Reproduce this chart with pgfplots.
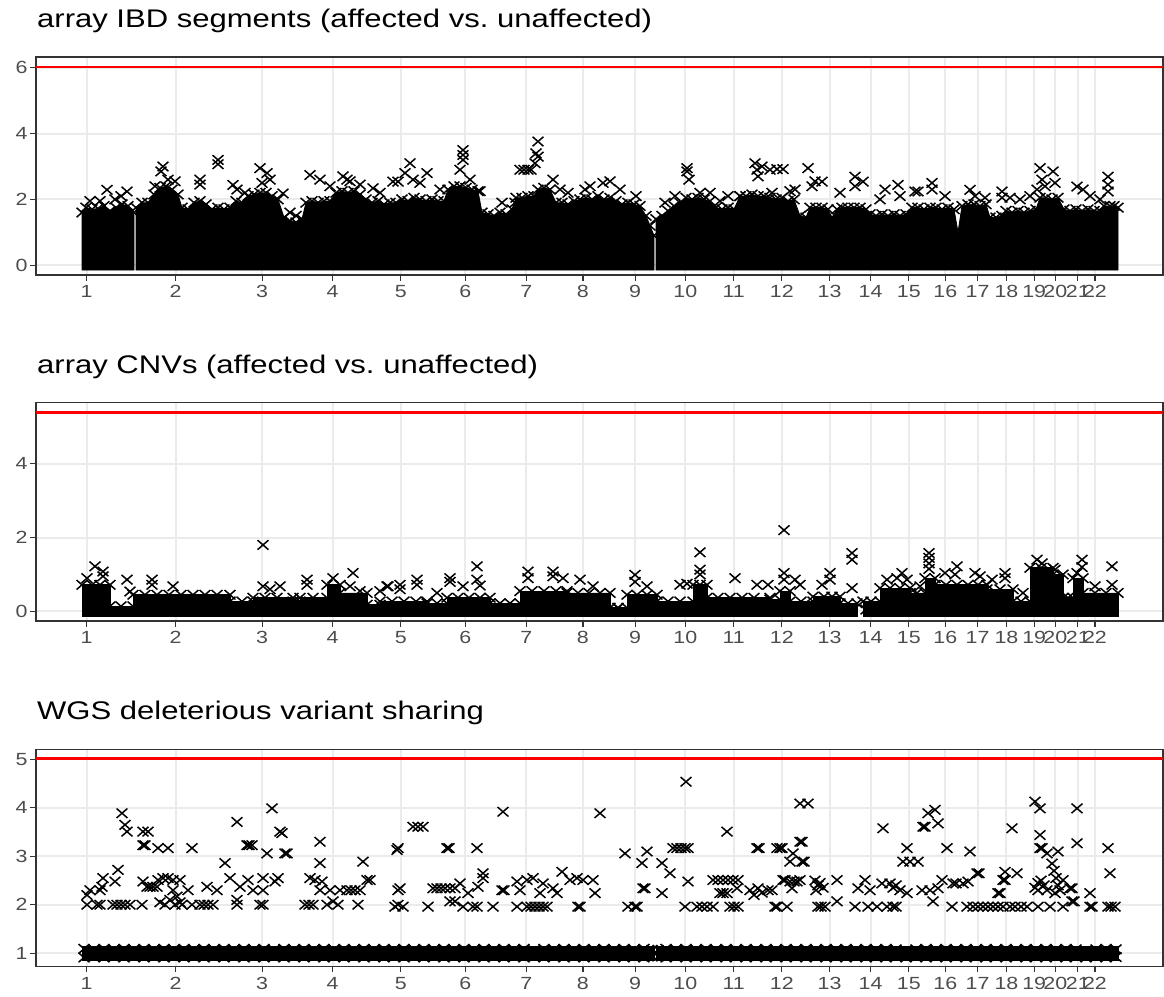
\documentclass[border=0pt]{standalone}
\usepackage{fontspec}
\setmainfont{Liberation Sans}[FakeStretch=1.217]
\usepackage{pgfplots}
\usepackage{pgfplotstable}
\pgfplotsset{compat=1.18}
\definecolor{gridc}{HTML}{EBEBEB}
\definecolor{axc}{HTML}{333333}
\definecolor{tickc}{HTML}{4D4D4D}
\definecolor{thr}{HTML}{FF0000}

% ---------- panel 1: IBD mass envelope (x = genome position in px units, y = -log10 p) ----------
\pgfplotstableread{
x y
82 -0.15
82 1.6
86 1.75
92 1.7
98 1.72
104 1.8
110 1.65
116 1.75
122 1.85
128 1.8
134 1.6
134 -0.15
}\pIa
\pgfplotstableread{
x y
136 -0.15
136 1.75
142 1.9
148 1.9
154 2.15
160 2.35
166 2.4
172 2.3
178 2.15
182 1.75
188 1.7
194 1.9
200 1.95
206 1.85
212 1.7
218 1.75
224 1.7
230 1.75
236 1.95
242 1.9
248 2.1
254 2.15
260 2.2
266 2.2
272 2.1
278 2.0
284 1.45
290 1.35
296 1.3
302 1.4
306 1.9
312 1.95
318 1.9
324 1.95
330 1.95
336 2.2
342 2.25
348 2.2
354 2.25
360 2.15
366 2.0
372 1.9
378 1.95
384 1.85
390 1.9
396 1.9
402 2.0
408 1.95
414 2.05
420 2.0
426 1.95
432 2.0
438 1.95
444 1.95
448 2.3
454 2.4
460 2.4
466 2.35
472 2.3
478 2.25
482 1.6
488 1.55
494 1.5
500 1.6
506 1.55
512 1.7
516 2.05
522 2.05
528 2.1
534 2.1
538 2.3
544 2.35
550 2.3
556 1.9
562 1.9
568 1.85
574 1.95
580 2.0
586 2.05
592 2.0
598 2.1
604 2.0
610 2.05
616 1.95
622 1.85
628 1.9
634 1.85
640 1.8
646 1.5
650 1.2
654 0.9
654 -0.15
}\pIb
\pgfplotstableread{
x y
656 -0.15
656 1.4
662 1.5
668 1.65
674 1.8
680 1.9
686 2.05
692 2.0
698 2.05
704 2.0
710 1.95
716 1.75
722 1.7
728 1.75
734 1.7
740 2.1
746 2.1
752 2.15
758 2.1
764 2.1
770 2.05
776 2.0
782 2.05
788 1.95
794 2.0
800 1.5
806 1.45
810 1.75
816 1.75
822 1.75
828 1.7
832 1.45
837 1.7
842 1.75
848 1.75
854 1.75
860 1.75
866 1.7
870 1.55
876 1.5
882 1.55
888 1.5
894 1.55
900 1.5
906 1.55
912 1.75
918 1.75
924 1.7
930 1.75
936 1.75
942 1.7
948 1.75
954 1.7
958 1.0
962 1.8
968 1.85
974 1.85
980 1.8
986 1.85
990 1.45
996 1.45
1002 1.5
1006 1.65
1012 1.6
1018 1.65
1024 1.6
1030 1.65
1036 1.7
1040 2.05
1046 2.05
1052 2.0
1058 2.05
1064 1.7
1070 1.65
1076 1.7
1082 1.65
1088 1.7
1094 1.65
1100 1.65
1104 1.8
1110 1.8
1114 1.8
1118 1.75
1118 -0.15
}\pIc

% ---------- panel 2: CNV mass envelope ----------
\pgfplotstableread{
x y
82 -0.13
82 0.72
110 0.72
110 0.14
133 0.14
133 0.45
230 0.45
230 0.27
253 0.27
253 0.37
293 0.37
293 0.27
300 0.27
300 0.37
327 0.37
327 0.72
340 0.72
340 0.5
367 0.5
367 0.18
380 0.18
380 0.27
427 0.27
427 0.22
447 0.22
447 0.37
490 0.37
490 0.22
520 0.22
520 0.55
567 0.55
567 0.5
610 0.5
610 0.1
627 0.1
627 0.45
657 0.45
657 0.27
693 0.27
693 0.72
707 0.72
707 0.37
770 0.37
770 0.32
780 0.32
780 0.55
790 0.55
790 0.27
813 0.27
813 0.4
840 0.4
840 0.22
857 0.22
857 -0.13
}\pIIa
\pgfplotstableread{
x y
863 -0.13
863 0.27
880 0.27
880 0.63
910 0.63
910 0.5
925 0.5
925 0.9
935 0.9
935 0.72
987 0.72
987 0.6
1013 0.6
1013 0.27
1030 0.27
1030 1.18
1053 1.18
1053 1.0
1063 1.0
1063 0.37
1073 0.37
1073 0.9
1083 0.9
1083 0.5
1118 0.5
1118 -0.13
}\pIIb

% ---------- panel 3: WGS band at 1 ----------
\pgfplotstableread{
x y
82 0.86
82 1.13
654 1.13
654 0.86
}\pIIIa
\pgfplotstableread{
x y
656 0.86
656 1.13
1118 1.13
1118 0.86
}\pIIIb
% edge marks of the band (upper row t, lower row b)
\pgfplotstableread{
x t b
84 1.09 0.91
94 1.08 0.92
104 1.09 0.91
114 1.08 0.92
124 1.09 0.91
134 1.08 0.92
144 1.09 0.91
154 1.08 0.92
164 1.09 0.91
174 1.08 0.92
184 1.09 0.91
194 1.08 0.92
204 1.09 0.91
214 1.08 0.92
224 1.09 0.91
234 1.08 0.92
244 1.09 0.91
254 1.08 0.92
264 1.09 0.91
274 1.07 0.92
284 1.09 0.91
294 1.08 0.92
304 1.09 0.91
314 1.08 0.92
324 1.09 0.91
334 1.08 0.92
344 1.09 0.91
354 1.08 0.92
364 1.09 0.91
374 1.08 0.92
384 1.09 0.91
394 1.08 0.92
404 1.09 0.91
414 1.08 0.92
424 1.09 0.91
434 1.08 0.92
444 1.09 0.91
454 1.08 0.92
464 1.09 0.91
474 1.08 0.92
484 1.09 0.91
494 1.08 0.92
504 1.09 0.91
514 1.08 0.92
524 1.09 0.91
534 1.06 0.92
544 1.09 0.91
554 1.08 0.92
564 1.09 0.91
574 1.08 0.92
584 1.09 0.91
594 1.08 0.92
604 1.09 0.91
614 1.08 0.92
624 1.09 0.91
634 1.08 0.92
644 1.09 0.91
652 1.07 0.93
658 1.07 0.93
666 1.09 0.91
676 1.08 0.92
686 1.09 0.91
696 1.08 0.92
706 1.09 0.91
716 1.08 0.92
726 1.09 0.91
736 1.08 0.92
746 1.09 0.91
756 1.08 0.92
766 1.09 0.91
776 1.08 0.92
786 1.09 0.91
796 1.08 0.92
806 1.09 0.91
816 1.08 0.92
826 1.09 0.91
836 1.08 0.92
846 1.09 0.91
856 1.08 0.92
866 1.09 0.91
876 1.08 0.92
886 1.09 0.91
896 1.08 0.92
906 1.06 0.91
916 1.08 0.92
926 1.09 0.91
936 1.08 0.92
946 1.09 0.91
956 1.08 0.92
966 1.09 0.91
976 1.08 0.92
986 1.09 0.91
996 1.08 0.92
1006 1.09 0.91
1016 1.08 0.92
1026 1.09 0.91
1036 1.08 0.92
1046 1.09 0.91
1056 1.08 0.92
1066 1.09 0.91
1076 1.08 0.92
1086 1.05 0.91
1096 1.08 0.92
1106 1.09 0.91
1116 1.08 0.92
}\pIIIedge

\pgfplotsset{
  manh/.style={
    scale only axis, width=1127pt,
    xmin=36, xmax=1163,
    xtick={86.7,175.5,262.2,332.7,400.8,465.3,526.3,582.9,635.1,685.4,733.7,781.8,829.5,870.5,908.8,945.3,977.5,1006.4,1034.2,1055.3,1077.8,1094.9},
    xticklabels={1,2,3,4,5,6,7,8,9,10,11,12,13,14,15,16,17,18,19,20,21,22},
    tick pos=left, tick align=outside, major tick length=5.5pt,
    every tick/.style={axc, line width=1.2pt},
    grid=major, major grid style={gridc, line width=2pt},
    axis line style={axc, line width=1.2pt},
    /pgf/number format/assume math mode=true,
    tick label style={font=\fontsize{17.6}{19}\selectfont, text=tickc},
    xticklabel style={yshift=-1.5pt},
    yticklabel style={xshift=0.5pt},
    title style={at={(0,1)}, anchor=base west, yshift=23.5pt, xshift=1pt, inner sep=0pt,
                 font=\fontsize{25.5}{30}\selectfont, text=black},
  },
  mass/.style={fill=black, draw=black, line width=0.8pt},
  xm/.style={only marks, mark=x, mark size=6.7pt, color=black,
             mark options={xscale=1.15, line width=1.5pt}},
}

\begin{document}
\begin{tikzpicture}
\useasboundingbox (0,0) rectangle (1164pt,-996pt);

% ================= Panel 1 =================
\begin{axis}[manh, at={(36pt,-275pt)}, anchor=south west, height=218pt,
  ymin=-0.30, ymax=6.33, ytick={0,2,4,6},
  title={array IBD segments (affected vs.\ unaffected)}]
\addplot[mass] table {\pIa} -- cycle;
\addplot[mass] table {\pIb} -- cycle;
\addplot[mass] table {\pIc} -- cycle;
\addplot[xm, restrict y to domain=-0.1:10] table {\pIa};
\addplot[xm, restrict y to domain=-0.1:10] table {\pIb};
\addplot[xm, restrict y to domain=-0.1:10] table {\pIc};
\addplot[xm] coordinates {
(107,2.29)(127,2.24)(100,1.95)(90,1.95)(115,2.0)(121,2.1)(163,3.0)(161,2.85)(168,2.6)(175,2.55)(155,2.4)(200,2.6)(200,2.45)(218,3.2)(218,3.07)(233,2.44)(237,2.3)(245,2.2)(260,2.95)(262,2.5)(267,2.8)(270,2.6)(283,2.18)(290,1.6)(296,1.5)(310,2.74)(320,2.6)(330,2.4)(343,2.7)(347,2.6)(350,2.55)(360,2.45)(373,2.34)(380,2.2)(393,2.54)
(398,2.54)(410,3.1)(405,2.8)(413,2.6)(427,2.8)(420,2.5)(440,2.3)(463,3.5)(463,3.35)(463,3.2)(460,2.9)(470,2.6)(480,2.25)(502,1.9)(515,1.9)(520,2.9)(524,2.9)(528,2.9)(531,2.9)(538,3.76)(536,3.4)(538,3.3)(535,3.1)(553,2.6)(560,2.3)(568,2.2)(585,2.3)(590,2.4)(603,2.5)(610,2.55)(620,2.3)(636,2.1)(665,1.9)(675,2.1)(687,2.95)(687,2.85)(689,2.6)(700,2.2)(710,2.2)(720,1.95)(728,2.1)(740,2.1)(755,3.1)(757,2.9)(758,2.7)(762,3.0)(770,2.9)(772,2.2)
(777,2.92)(783,2.92)(790,2.25)(795,2.3)(808,2.95)(812,2.4)(815,2.55)(822,2.54)(840,2.2)(855,2.69)(855,2.4)(863,2.54)(880,2.0)(885,2.3)(898,2.44)(900,2.1)(915,2.24)(918,2.24)(932,2.5)(932,2.3)(945,2.1)(970,2.29)(975,2.1)(985,2.05)(1002,2.24)(1002,2.05)(1010,2.05)(1020,2.0)(1030,2.1)(1037,2.3)(1040,2.95)(1042,2.6)(1045,2.4)(1053,2.85)(1055,2.5)(1077,2.39)(1083,2.3)(1090,2.1)(1108,2.69)(1108,2.45)(1108,2.24)(1100,2.0)
};
\addplot[thr, line width=2.6pt] coordinates {(36,6.03) (1163,6.03)};
\end{axis}

% ================= Panel 2 =================
\begin{axis}[manh, at={(36pt,-621pt)}, anchor=south west, height=218.3pt,
  ymin=-0.26, ymax=5.65, ytick={0,2,4},
  title={array CNVs (affected vs.\ unaffected)}]
\addplot[mass] table {\pIIa} -- cycle;
\addplot[mass] table {\pIIb} -- cycle;
\addplot[xm, restrict y to domain=-0.1:10] table {\pIIa};
\addplot[xm, restrict y to domain=-0.1:10] table {\pIIb};
% marks along the plateaus
\addplot[xm] coordinates {
(92,0.72)(100,0.72)(121,0.14)(145,0.45)(157,0.45)(169,0.45)(181,0.45)(193,0.45)(205,0.45)(217,0.45)(242,0.27)(265,0.37)(277,0.37)(313,0.37)(392,0.27)(404,0.27)(416,0.27)(437,0.22)(458,0.37)(469,0.37)(480,0.37)(500,0.22)(510,0.22)(532,0.55)(544,0.55)(556,0.55)(578,0.5)(589,0.5)(600,0.5)(618,0.1)(637,0.45)(647,0.45)(668,0.27)(680,0.27)(700,0.72)(718,0.37)(730,0.37)(742,0.37)(754,0.37)(801,0.27)(824,0.4)(832,0.4)(848,0.22)(871,0.27)(890,0.63)(900,0.63)(917,0.5)(946,0.72)(957,0.72)(968,0.72)(978,0.72)(1000,0.6)(1021,0.27)(1041,1.18)(1068,0.37)(1095,0.5)(1106,0.5)
};
\addplot[xm] coordinates {
(87,0.9)(95,1.22)(103,1.08)(103,0.95)(127,0.86)(130,0.54)(152,0.86)(152,0.72)(173,0.68)(263,1.8)(263,0.68)(270,0.6)(280,0.68)(307,0.86)(307,0.72)(333,0.9)(353,1.04)(350,0.68)(360,0.55)(387,0.68)(380,0.55)
(388,0.68)(400,0.72)(400,0.6)(417,0.86)(417,0.72)(437,0.5)(450,0.9)(450,0.8)(463,0.68)(477,1.22)(477,0.86)(480,0.7)(528,1.08)(528,0.9)(553,1.08)(553,0.95)(563,0.9)(580,0.86)(593,0.68)(618,0.09)(635,0.99)(635,0.8)(647,0.68)(680,0.72)(687,0.75)(700,1.6)(700,1.13)(700,1.0)(735,0.9)(757,0.72)(768,0.72)
(784,2.2)(784,1.04)(784,0.86)(795,0.86)(800,0.72)(830,1.04)(830,0.86)(822,0.72)(852,1.58)(852,1.4)(852,0.63)(866,0.05)(887,0.86)(902,1.04)(907,0.86)(897,0.9)(920,0.68)(929,1.58)(929,1.45)(929,1.3)(929,1.15)(945,1.04)(957,1.22)(955,1.0)(975,1.04)(980,0.95)(992,0.86)(1005,1.04)(1005,0.9)(1023,0.5)(1037,1.4)(1042,1.3)(1055,1.13)(1082,1.4)(1077,1.04)(1082,1.2)(1095,0.68)(1112,1.22)(1112,0.72)
};
\addplot[thr, line width=2.6pt] coordinates {(36,5.39) (1163,5.39)};
\end{axis}

% ================= Panel 3 =================
\begin{axis}[manh, at={(36pt,-966.7pt)}, anchor=south west, height=217.4pt,
  ymin=0.72, ymax=5.21, ytick={1,2,3,4,5},
  title={WGS deleterious variant sharing}]
\addplot[mass] table {\pIIIa} -- cycle;
\addplot[mass] table {\pIIIb} -- cycle;
\addplot[xm] table[x=x, y=t] {\pIIIedge};
\addplot[xm] table[x=x, y=b] {\pIIIedge};
\addplot[xm] coordinates {
(87,2.0)(87,2.2)(90,2.3)(97,2.0)(100,2.0)(102,2.37)(103,2.55)(100,2.3)(115,2.48)(118,2.72)(122,3.89)(125,3.65)(127,3.51)(113,2.0)(117,2.0)(121,2.0)(125,2.0)(130,2.0)(143,3.23)(145,3.23)(143,3.51)(148,3.51)(142,2.0)(143,2.48)(147,2.37)(150,2.37)(153,2.37)(157,2.37)(158,2.51)(163,2.55)(158,3.17)(168,3.17)(160,2.05)(165,2.0)(170,2.1)(175,2.0)(180,2.05)(168,2.55)(173,2.51)(180,2.51)(173,2.3)(177,2.17)(182,2.0)(188,2.3)(192,2.0)(192,3.17)(200,2.0)(204,2.0)(208,2.0)(213,2.0)(207,2.37)(217,2.3)(225,2.86)(230,2.55)(237,2.0)(237,2.1)(237,3.71)(240,2.37)(247,3.23)(252,3.23)(249,3.23)(248,2.51)(253,2.3)(260,2.0)(263,2.0)(263,2.3)(267,3.06)(263,2.55)(272,3.99)(275,2.48)(278,2.55)(280,3.51)(282,3.48)(285,3.06)(287,3.06)(305,2.0)(309,2.0)(313,2.0)(310,2.55)(315,2.51)(320,3.3)(320,2.86)(320,2.3)(322,2.48)(327,2.0)(330,2.3)(333,2.07)(338,2.0)(340,2.3)(347,2.3)(351,2.3)(355,2.3)(360,2.3)(358,2.0)(363,2.89)(367,2.51)(370,2.51)(397,3.13)(398,2.0)(398,2.3)
(398,3.17)(400,2.34)(395,1.96)(403,1.96)(413,3.61)(418,3.61)(423,3.61)(428,1.96)(433,2.34)(437,2.34)(441,2.34)(445,2.34)(450,2.34)(455,2.34)(447,3.17)(449,3.17)(450,2.07)(455,2.07)(460,2.44)(463,1.96)(468,2.24)(473,1.96)(477,3.17)(477,1.96)(478,2.37)(483,2.55)(483,2.65)(493,1.96)(502,2.3)(504,2.3)(503,3.92)(517,1.96)(517,2.48)(520,2.3)(527,2.51)(527,1.96)(531,1.96)(535,1.96)(539,1.96)(543,1.96)(547,1.96)(533,2.55)(540,2.24)(543,2.44)(553,2.34)(557,2.24)(562,2.68)(570,2.51)(577,2.55)(583,2.51)(578,1.96)(580,1.96)(593,2.51)(595,2.24)(600,3.89)(625,3.06)(628,1.96)(635,1.96)(637,1.96)(642,2.86)(643,2.34)(645,2.34)(647,3.1)(662,2.24)(662,2.86)(670,2.65)(673,3.17)(677,3.17)(681,3.17)(685,3.17)(688,3.17)(686,4.54)(688,2.48)(685,1.96)(697,1.96)(702,1.96)(707,1.96)(713,1.96)(713,2.51)(718,2.51)(723,2.51)(728,2.51)(733,2.51)(738,2.51)(720,2.24)(723,2.24)(727,2.24)(730,1.96)(734,1.96)(738,1.96)(727,3.51)(737,2.34)(750,2.3)(754,2.2)(758,2.34)(762,2.25)(757,3.17)(759,3.17)(768,2.3)(777,3.17)(777,1.96)
(772,2.3)(775,1.96)(780,3.17)(782,3.17)(787,1.96)(783,2.51)(785,2.51)(790,2.48)(794,2.48)(797,2.48)(790,2.89)(793,3.06)(792,2.34)(800,3.3)(802,3.3)(802,2.89)(804,2.89)(800,2.51)(800,4.09)(808,4.09)(815,2.5)(818,2.4)(820,2.45)(823,2.35)(816,2.3)(818,1.96)(821,1.96)(825,1.96)(837,2.51)(837,2.07)(855,1.96)(858,2.34)(865,2.51)(868,1.96)(870,2.3)(877,1.96)(883,3.58)(882,2.44)(887,1.96)(890,2.44)(893,2.35)(896,2.4)(900,2.3)(893,1.96)(896,1.96)(907,3.17)(903,2.89)(910,2.89)(918,2.89)(907,2.24)(922,2.3)(923,3.61)(925,3.61)(928,3.89)(935,3.96)(938,3.68)(933,2.07)(930,2.3)(938,2.34)(942,2.51)(947,3.17)(952,1.96)(953,2.44)(956,2.44)(963,2.44)(967,1.96)(970,3.1)(968,2.48)(977,2.65)(979,2.65)(973,1.96)(978,1.96)(983,1.96)(988,1.96)(993,1.96)(998,1.96)(1003,1.96)(998,2.24)(1000,2.24)(1003,2.51)(1005,2.51)(1005,2.68)(1012,3.58)(1017,2.65)(1010,1.96)(1015,1.96)(1021,1.96)(1027,1.96)(1035,4.13)(1040,3.99)(1040,3.44)(1040,3.17)(1042,3.17)(1047,3.06)(1035,2.35)(1038,2.45)(1041,2.5)(1044,2.4)(1047,2.3)(1038,2.3)(1038,1.96)(1050,1.96)(1058,3.1)(1052,2.85)(1054,2.7)(1056,2.55)(1058,2.4)(1060,2.3)(1055,2.24)(1063,2.51)(1063,1.96)(1070,2.34)(1072,2.34)(1072,2.07)(1074,2.07)(1077,3.27)(1077,3.99)(1090,2.24)(1090,1.96)(1092,1.96)(1108,3.17)(1110,2.65)(1108,1.96)(1111,1.96)(1115,1.96)
};
\addplot[thr, line width=2.6pt] coordinates {(36,5.02) (1163,5.02)};
\end{axis}
\end{tikzpicture}
\end{document}
